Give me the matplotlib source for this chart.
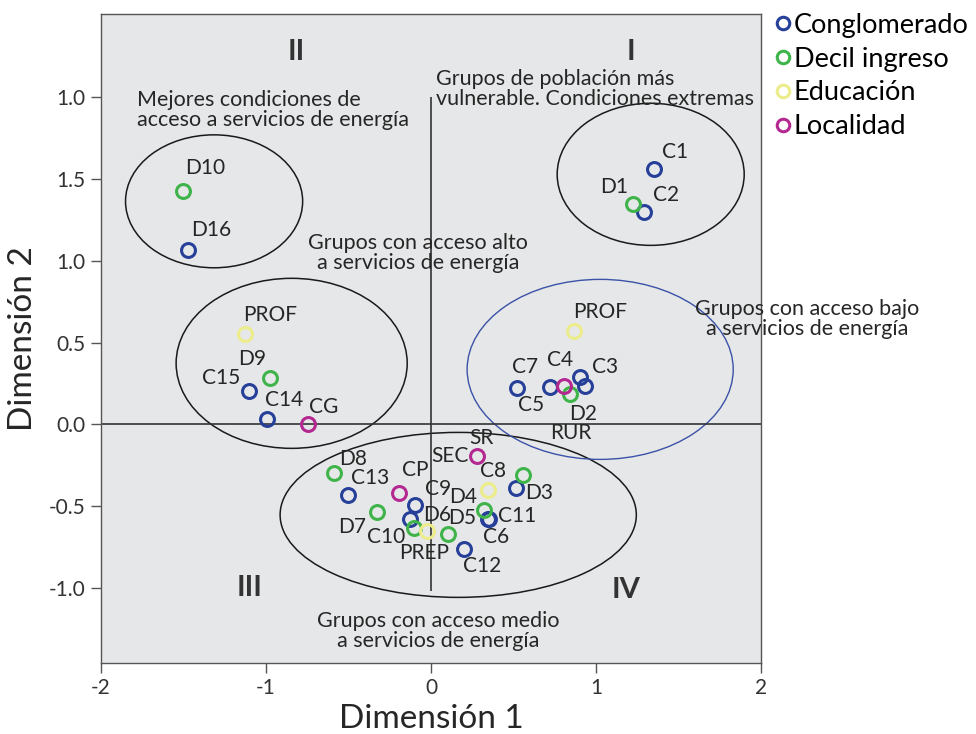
import matplotlib
matplotlib.use('Agg')
import matplotlib.pyplot as plt
from matplotlib.patches import Ellipse
from matplotlib.lines import Line2D

plt.rcParams['font.family'] = ['Lato', 'DejaVu Sans']

# Category coordinates (Dimension 1, Dimension 2)
conglomerado_names = ['C1', 'C2', 'D16', 'C3', 'C4', 'C5', 'C7', 'C15', 'C14',
                      'C13', 'C9', 'C10', 'C8', 'C6', 'C11', 'C12']
conglomerado_x = [1.353, 1.291, -1.475, 0.933, 0.899, 0.717, 0.519, -1.101, -0.996,
                  -0.501, -0.097, -0.131, 0.513, 0.347, 0.352, 0.202]
conglomerado_y = [1.564, 1.299, 1.068, 0.232, 0.289, 0.228, 0.222, 0.204, 0.035,
                  -0.434, -0.495, -0.577, -0.389, -0.577, -0.580, -0.760]

decil_names = ['D1', 'D10', 'D2', 'D9', 'D8', 'D7', 'D6', 'D5', 'D4', 'D3']
decil_x = [1.222, -1.505, 0.842, -0.976, -0.588, -0.329, -0.103, 0.105, 0.323, 0.556]
decil_y = [1.346, 1.425, 0.183, 0.286, -0.298, -0.536, -0.632, -0.669, -0.526, -0.308]

educacion_names = ['PROF', 'PROF ', 'PREP', 'SEC']
educacion_x = [-1.127, 0.868, -0.026, 0.344]
educacion_y = [0.550, 0.569, -0.654, -0.399]

localidad_names = ['CG', 'RUR', 'CP', 'SR']
localidad_x = [-0.744, 0.802, -0.194, 0.277]
localidad_y = [0.004, 0.234, -0.420, -0.196]

y_ticks = [-1.0, -0.5, 0.0, 0.5, 1.0, 1.5, 2.0]
y_ticklabels = ['-1.0', '-0.5', '0.0', '0.5', '1.0', '1.5', '1.0']
x_ticks = [-2, -1, 0, 1, 2]

# label offsets in pixels (dx, dy)
offsets = {
    'C1': (21, 17), 'C2': (22, 17), 'D16': (24, 20), 'C3': (20, 19), 'C4': (-19, 17),
    'C5': (-18, -18), 'C7': (8, 21), 'C15': (-28, 13), 'C14': (17, 19),
    'C13': (22, 17), 'C9': (23, 16), 'C10': (-23, -18), 'C8': (-23, 17),
    'C6': (8, -18), 'C11': (28, 3), 'C12': (18, -17),
    'D1': (-19, 17), 'D10': (22, 23), 'D2': (13, -20), 'D9': (-18, 19), 'D8': (19, 14),
    'D7': (-25, -15), 'D6': (23, 13), 'D5': (14, 16), 'D4': (-21, 13), 'D3': (16, -18),
    'PROF': (25, 19), 'PROF ': (26, 19), 'PREP': (-3, -22), 'SEC': (-38, 34),
    'CG': (15, 17), 'RUR': (7, -47), 'CP': (16, 23), 'SR': (5, 18),
}

colors = {'Conglomerado': '#263f98', 'Decil ingreso': '#3fb44a',
          'Educación': '#ecec8a', 'Localidad': '#b32891'}

fig = plt.figure(figsize=(9.76, 7.34), dpi=100)
ax = fig.add_axes([0.1035, 0.0967, 0.6765, 0.8843])
ax.set_facecolor('#e6e7e8')

groups = [
    ('Conglomerado', conglomerado_names, conglomerado_x, conglomerado_y),
    ('Decil ingreso', decil_names, decil_x, decil_y),
    ('Educación', educacion_names, educacion_x, educacion_y),
    ('Localidad', localidad_names, localidad_x, localidad_y),
]

# ellipses
ell_style = dict(fill=False, edgecolor='#1a1a1a', linewidth=1.1)
ax.add_patch(Ellipse((-1.315, 1.364), 1.073, 0.813, **ell_style))
ax.add_patch(Ellipse((1.330, 1.529), 1.133, 0.869, **ell_style))
ax.add_patch(Ellipse((-0.845, 0.373), 1.40, 1.04, **ell_style))
ax.add_patch(Ellipse((0.164, -0.554), 2.158, 1.009, **ell_style))
ax.add_patch(Ellipse((1.024, 0.336), 1.612, 1.101, fill=False, edgecolor='#3a52a8', linewidth=1.0))

# reference lines
ax.axhline(0, color='#333333', linewidth=1.2, zorder=1)
ax.vlines(0, -1.02, 2.0, color='#333333', linewidth=1.2, zorder=1)

for name, labels, xs, ys in groups:
    ax.plot(xs, ys, 'o', markersize=10, markerfacecolor='none',
            markeredgecolor=colors[name], markeredgewidth=2.2, zorder=3)
    for lab, x, y in zip(labels, xs, ys):
        dx, dy = offsets[lab]
        ax.annotate(lab.strip(), (x, y), xytext=(dx, dy), textcoords='offset pixels',
                    ha='center', va='center', fontsize=15, color='#262626', zorder=4)

# quadrant labels
for qx, qy, q in [(-0.818, 2.275, 'II'), (1.212, 2.275, 'I'), (-1.103, -1.003, 'III'), (1.18, -1.015, 'IV')]:
    ax.text(qx, qy, q, fontsize=21, fontweight='bold', color='#333333', ha='center', va='center')

# annotations
txt = dict(fontsize=15.5, color='#262626', linespacing=1.0)
ax.text(-1.782, 1.92, 'Mejores condiciones de\nacceso a servicios de energía', ha='left', va='center', **txt)
ax.text(0.03, 2.05, 'Grupos de población más\nvulnerable. Condiciones extremas', ha='left', va='center', **txt)
ax.text(-0.08, 1.046, 'Grupos con acceso alto\na servicios de energía', ha='center', va='center', **txt)
ax.text(2.28, 0.642, 'Grupos con acceso bajo\na servicios de energía', ha='center', va='center',
        clip_on=False, **txt)
ax.text(0.04, -1.266, 'Grupos con acceso medio\na servicios de energía', ha='center', va='center', **txt)

ax.set_xlim(-2, 2)
ax.set_ylim(-1.46, 2.51)
ax.set_xticks(x_ticks)
ax.set_xticklabels([str(t) for t in x_ticks])
ax.set_yticks(y_ticks)
ax.set_yticklabels(y_ticklabels)
ax.tick_params(direction='out', length=7, width=1, color='#555555', labelsize=15,
               labelcolor='#333333', pad=4)
for sp in ax.spines.values():
    sp.set_color('#555555')
    sp.set_linewidth(1.0)

ax.set_xlabel('Dimensión 1', fontsize=24, color='#262626', labelpad=4)
ax.set_ylabel('Dimensión 2', fontsize=24, color='#262626', labelpad=8)

handles = [Line2D([], [], marker='o', linestyle='none', markersize=9, markerfacecolor='none',
                  markeredgecolor=colors[k], markeredgewidth=2.2) for k in colors]
fig.legend(handles, list(colors.keys()), loc='upper left', bbox_to_anchor=(0.776, 1.005),
           frameon=False, fontsize=19.5, handletextpad=0.05, labelspacing=0.33,
           borderaxespad=0.2, handlelength=0.7)

fig.savefig('out.png', dpi=100)
